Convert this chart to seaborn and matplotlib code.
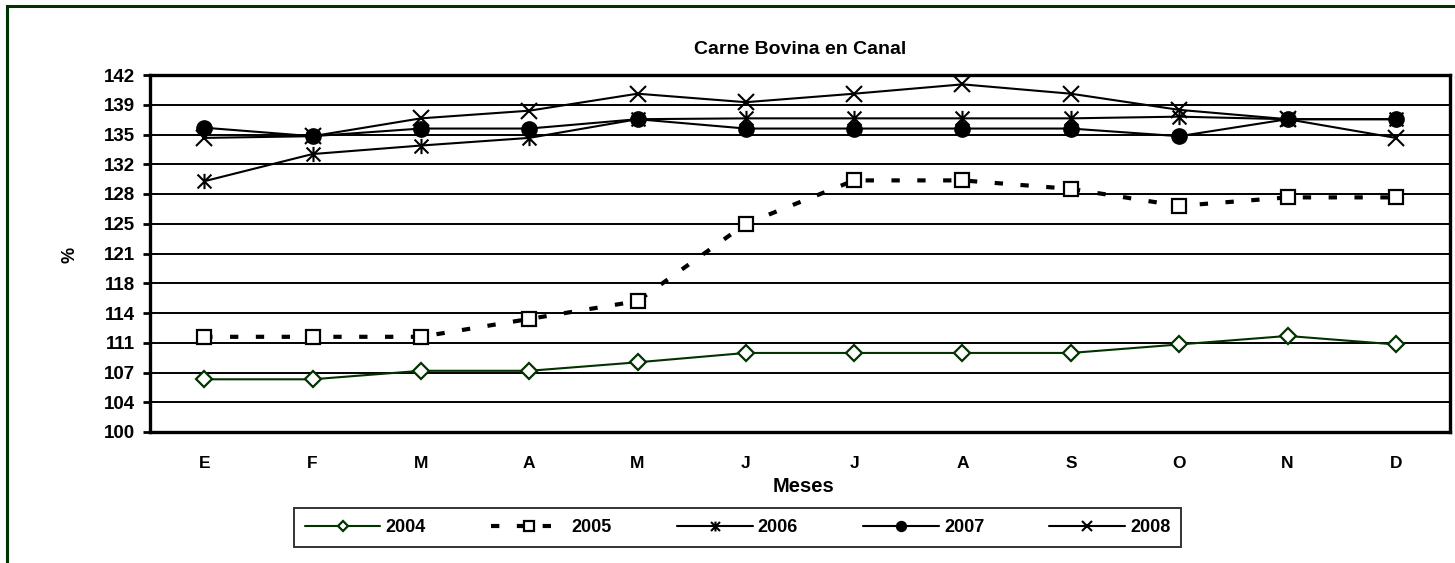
import matplotlib
matplotlib.use("Agg")
import matplotlib.pyplot as plt
import numpy as np
import pandas as pd
import seaborn as sns
from matplotlib.path import Path
from matplotlib.patches import Rectangle

MONTHS = ["E", "F", "M", "A", "M", "J", "J", "A", "S", "O", "N", "D"]
YEARS = ["2004", "2005", "2006", "2007", "2008"]
Y2004 = [106.2, 106.2, 107.2, 107.2, 108.2, 109.3, 109.3, 109.3, 109.3, 110.3, 111.3, 110.3]
Y2005 = [111.2, 111.2, 111.2, 113.3, 115.4, 124.5, 129.6, 129.6, 128.6, 126.6, 127.6, 127.6]
Y2006 = [129.5, 132.7, 133.7, 134.6, 136.8, 136.9, 136.9, 136.9, 136.9, 137.1, 136.8, 136.8]
Y2007 = [135.8, 134.8, 135.7, 135.7, 136.8, 135.7, 135.7, 135.7, 135.7, 134.8, 136.8, 136.8]
Y2008 = [134.6, 134.8, 136.9, 137.8, 139.8, 138.8, 139.8, 140.9, 139.8, 137.9, 136.8, 134.6]

GREEN = "#003300"
FONT = ["Liberation Sans", "DejaVu Sans"]

# Excel style asterisk: X plus vertical bar
ASTERISK = Path(
    [(-1, -1), (1, 1), (-1, 1), (1, -1), (0, -1.1), (0, 1.1)],
    [Path.MOVETO, Path.LINETO, Path.MOVETO, Path.LINETO, Path.MOVETO, Path.LINETO],
)

STYLES = {
    "2004": dict(color=GREEN, marker="D", markersize=8.5, markerfacecolor="white",
                 markeredgecolor=GREEN, markeredgewidth=1.6, linewidth=1.5),
    "2005": dict(color="black", marker="s", markersize=10.5, markerfacecolor="white",
                 markeredgecolor="black", markeredgewidth=1.6, linewidth=3.0,
                 linestyle=(0, (2, 4.2))),
    "2006": dict(color="black", marker=ASTERISK, markersize=11, markerfacecolor="none",
                 markeredgecolor="black", markeredgewidth=1.5, linewidth=1.5),
    "2007": dict(color="black", marker="o", markersize=11, markerfacecolor="black",
                 markeredgecolor="black", markeredgewidth=1.0, linewidth=1.5),
    "2008": dict(color="black", marker="x", markersize=11, markerfacecolor="none",
                 markeredgecolor="black", markeredgewidth=1.5, linewidth=1.5),
}


def build_frame() -> pd.DataFrame:
    series = {"2004": Y2004, "2005": Y2005, "2006": Y2006, "2007": Y2007, "2008": Y2008}
    rows = []
    for year in YEARS:
        for pos, value in enumerate(series[year]):
            rows.append({"year": year, "pos": pos, "value": value})
    return pd.DataFrame(rows)


def excel_round(v: float) -> str:
    return str(int(np.floor(v + 0.5)))


def main() -> None:
    sns.set_theme(style="white")
    plt.rcParams["font.family"] = FONT
    plt.rcParams["font.weight"] = "bold"
    for key in ["text.color", "axes.labelcolor", "xtick.color", "ytick.color"]:
        plt.rcParams[key] = "black"

    df = build_frame()

    fig = plt.figure(figsize=(14.55, 5.63), dpi=100)
    ax = fig.add_axes([150 / 1455, 1 - 432 / 563, 1300 / 1455, 357 / 563])

    yticks = np.arange(100, 142.01, 3.5)
    for tick in yticks:
        ax.axhline(tick, color="black", linewidth=1.4, zorder=1)

    for year in YEARS:
        sub = df[df["year"] == year]
        sns.lineplot(data=sub, x="pos", y="value", ax=ax, label=year,
                     errorbar=None, zorder=3, clip_on=False, **STYLES[year])

    ax.set_xlim(-0.5, len(MONTHS) - 0.5)
    ax.set_ylim(100, 142)
    ax.set_yticks(yticks)
    ax.set_yticklabels([excel_round(t) for t in yticks], fontsize=13.5, fontweight="bold",
                       color="black")
    ax.set_xticks(range(len(MONTHS)))
    ax.set_xticklabels(MONTHS, fontsize=12.5, fontweight="bold", color="black")
    ax.set_xticks(np.arange(-0.5, len(MONTHS)), minor=True)
    ax.tick_params(axis="x", which="major", length=0, pad=17)
    ax.tick_params(axis="x", which="minor", length=5, width=2, direction="out", color="black")
    ax.tick_params(axis="y", which="major", length=5, width=2, direction="out",
                   color="black", pad=6, left=True)
    ax.set_xlabel("")
    ax.set_ylabel("")
    for spine in ax.spines.values():
        spine.set_visible(True)
        spine.set_color("black")
        spine.set_linewidth(2.4)
    ax.set_facecolor("white")

    ax.get_legend().remove()
    handles, labels = ax.get_legend_handles_labels()
    leg = fig.legend(handles, labels, loc="center",
                     bbox_to_anchor=(737.5 / 1455, 1 - 527.5 / 563),
                     ncol=5, frameon=True, fancybox=False, edgecolor="black",
                     prop={"family": FONT, "weight": "bold", "size": 13},
                     handlelength=4.2, columnspacing=3.6, handletextpad=0.28,
                     borderpad=0.6, markerscale=0.65, labelcolor="black")
    leg.get_frame().set_linewidth(1.4)

    fig.text(800 / 1455, 1 - 50 / 563, "Carne Bovina en Canal", ha="center", va="center",
             fontsize=14, fontweight="bold", color="black")
    fig.text(70 / 1455, 1 - 255 / 563, "%", ha="center", va="center", rotation=90,
             fontsize=13, fontweight="bold", color="black")
    fig.text(804 / 1455, 1 - 486 / 563, "Meses", ha="center", va="center",
             fontsize=14.5, fontweight="bold", color="black")

    fig.patches.append(Rectangle((7 / 1455, -0.2), 1.2, 1.2 - 6 / 563,
                                 transform=fig.transFigure, fill=False,
                                 edgecolor=GREEN, linewidth=2.2, clip_on=False))

    fig.savefig("out.png", dpi=100, facecolor="white")
    plt.close(fig)


if __name__ == "__main__":
    main()
